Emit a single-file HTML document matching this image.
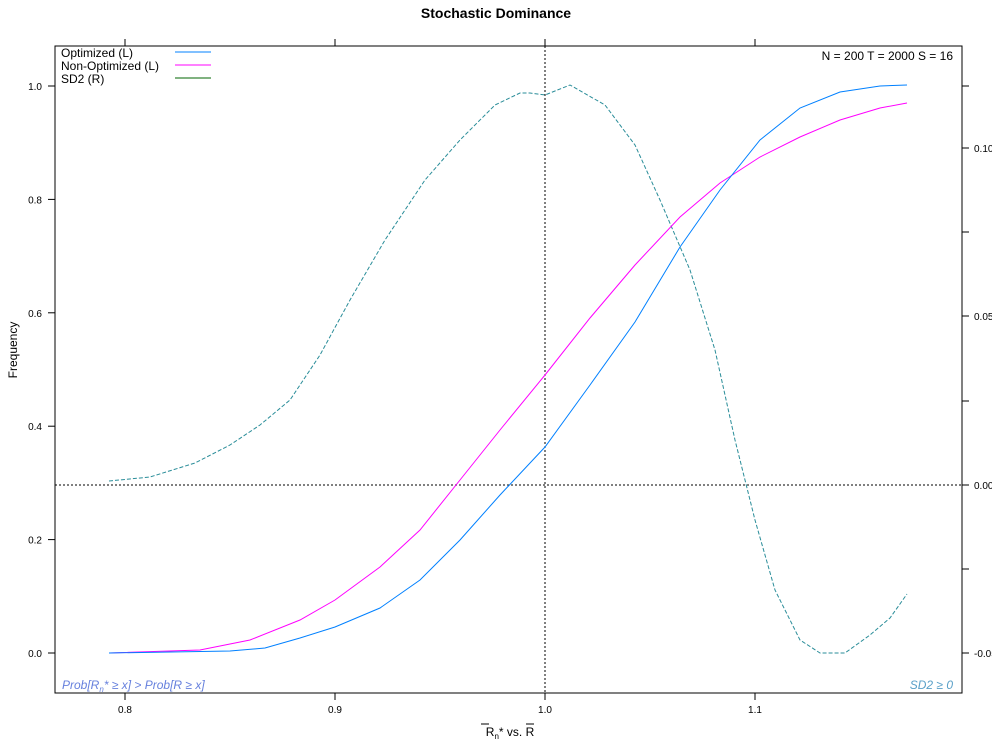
<!DOCTYPE html><html><head><style>body{margin:0;background:#fff}svg{font-family:"Liberation Sans",sans-serif}</style></head><body>
<svg width="992" height="751" xmlns="http://www.w3.org/2000/svg">
<text x="496" y="18" font-size="14" font-weight="bold" text-anchor="middle">Stochastic Dominance</text>
<rect x="55" y="46" width="907" height="647" fill="none" stroke="#000"/>
<g stroke="#000">
<line x1="125" y1="693" x2="125" y2="700"/><line x1="335" y1="693" x2="335" y2="700"/><line x1="545" y1="693" x2="545" y2="700"/><line x1="755" y1="693" x2="755" y2="700"/>
<line x1="125" y1="46" x2="125" y2="39"/><line x1="335" y1="46" x2="335" y2="39"/><line x1="545" y1="46" x2="545" y2="39"/><line x1="755" y1="46" x2="755" y2="39"/>
<line x1="48" y1="653" x2="55" y2="653"/><line x1="48" y1="539.6" x2="55" y2="539.6"/><line x1="48" y1="426.2" x2="55" y2="426.2"/><line x1="48" y1="312.8" x2="55" y2="312.8"/><line x1="48" y1="199.4" x2="55" y2="199.4"/><line x1="48" y1="86" x2="55" y2="86"/>
<line x1="962" y1="86" x2="969" y2="86"/><line x1="962" y1="148" x2="969" y2="148"/><line x1="962" y1="232" x2="969" y2="232"/><line x1="962" y1="316" x2="969" y2="316"/><line x1="962" y1="401" x2="969" y2="401"/><line x1="962" y1="485" x2="969" y2="485"/><line x1="962" y1="569" x2="969" y2="569"/><line x1="962" y1="653" x2="969" y2="653"/>
</g>
<g font-size="10" text-anchor="middle">
<text x="125" y="713">0.8</text><text x="335" y="713">0.9</text><text x="545" y="713">1.0</text><text x="755" y="713">1.1</text>
</g>
<g font-size="10" text-anchor="end">
<text x="42" y="657">0.0</text><text x="42" y="543.6">0.2</text><text x="42" y="430.2">0.4</text><text x="42" y="316.8">0.6</text><text x="42" y="203.4">0.8</text><text x="42" y="90">1.0</text>
</g>
<g font-size="10">
<text x="974" y="152">0.10</text><text x="974" y="320">0.05</text><text x="974" y="489">0.00</text><text x="974" y="657">-0.05</text>
</g>
<text x="17" y="350" font-size="12" text-anchor="middle" transform="rotate(-90 17 350)">Frequency</text>
<text x="510" y="736" font-size="12" text-anchor="middle">R<tspan font-size="8" dy="3">n</tspan><tspan dy="-3">* vs.  R</tspan></text>
<line x1="481" y1="724" x2="489" y2="724" stroke="#000"/><line x1="526" y1="724" x2="534" y2="724" stroke="#000"/>
<line x1="55" y1="485" x2="962" y2="485" stroke="#000" stroke-dasharray="2,2"/>
<line x1="545" y1="46" x2="545" y2="693" stroke="#000" stroke-dasharray="2,2"/>
<polyline fill="none" stroke="#2a8d99" stroke-dasharray="4,2" points="109,481 150,477 195,463 230,445 260,425 290,400 320,355 350,300 385,240 425,180 460,140 495,105 520,93 530,93 545,95 570,85 605,105 635,145 660,200 690,270 715,350 735,440 755,520 775,590 800,640 820,653 845,653 870,635 890,618 907,594"/>
<polyline fill="none" stroke="#ff00ff" points="109,653 200,650 250,640 300,620 335,600 380,567 420,530 460,480 500,430 545,375 590,318 635,265 680,217 720,183 760,157 800,137 840,120 880,108 907,103"/>
<polyline fill="none" stroke="#0080ff" points="109,653 230,651 265,648 300,638 335,627 380,608 420,580 460,540 500,495 545,447 590,385 635,322 680,247 720,190 760,140 800,108 840,92 880,86 907,85"/>
<g font-size="12"><text x="61" y="57">Optimized (L)</text><text x="61" y="70">Non-Optimized (L)</text><text x="61" y="83">SD2 (R)</text></g>
<line x1="175" y1="52" x2="211" y2="52" stroke="#0080ff"/><line x1="175" y1="65" x2="211" y2="65" stroke="#ff00ff"/><line x1="175" y1="78" x2="211" y2="78" stroke="#006400"/>
<text x="953" y="60" font-size="12" text-anchor="end">N = 200  T = 2000  S = 16</text>
<text x="62" y="689" font-size="12" font-style="italic" fill="#6680dd">Prob[R<tspan font-size="8" dy="3">n</tspan><tspan dy="-3">* ≥ x] &gt; Prob[R ≥ x]</tspan></text>
<text x="953" y="689" font-size="12" font-style="italic" fill="#5aa0c8" text-anchor="end">SD2 ≥ 0</text>
</svg></body></html>
